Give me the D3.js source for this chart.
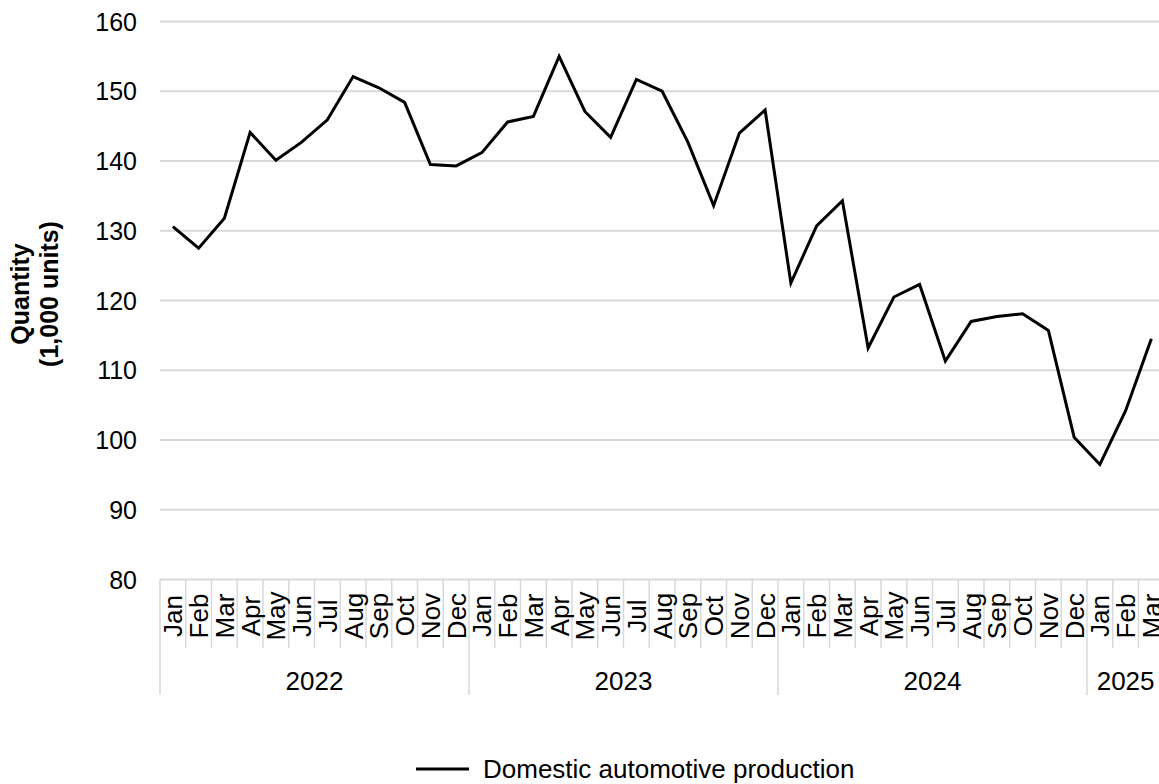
<!DOCTYPE html>
<html>
<head>
<meta charset="utf-8">
<script src="https://cdn.jsdelivr.net/npm/d3@7"></script>
<style>
  html, body { margin: 0; padding: 0; background: #fff; }
  svg { display: block; font-family: "Liberation Sans", Arial, sans-serif; }
</style>
</head>
<body>
<main></main>
<script>
// Data
const years = ['2022', '2023', '2024', '2025']
const monthNames = ['Jan', 'Feb', 'Mar', 'Apr', 'May', 'Jun', 'Jul', 'Aug', 'Sep', 'Oct', 'Nov', 'Dec']
const monthsPerYear = [12, 12, 12, 3]
const production = [
  130.6, 127.5, 131.8, 144.1, 140.1, 142.7, 145.9, 152.1, 150.5, 148.4, 139.5, 139.3,
  141.2, 145.6, 146.4, 155.0, 147.1, 143.4, 151.7, 150.0, 142.7, 133.6, 144.0, 147.3,
  122.5, 130.7, 134.3, 113.2, 120.5, 122.3, 111.3, 117.0, 117.7, 118.1, 115.7, 100.4,
  96.5, 104.2, 114.5
]
const yTicks = [80, 90, 100, 110, 120, 130, 140, 150, 160]
const seriesName = 'Domestic automotive production'

const width = 1159
const height = 784

// one row per month: year + month label
const rows = []
years.forEach((yr, yi) => {
  for (let m = 0; m < monthsPerYear[yi]; m++) {
    rows.push({ key: yr + '-' + m, year: yr, month: monthNames[m], value: production[rows.length] })
  }
})

const svg = d3.select('main')
  .append('svg')
  .attr('width', width)
  .attr('height', height)

const x = d3.scaleBand()
  .domain(rows.map(d => d.key))
  .range([160, 160 + rows.length * 25.75])
  .padding(0)

const y = d3.scaleLinear()
  .domain([80, 160])
  .range([579.5, 21.5])

const grey = '#d9d9d9'

// Gridlines
svg.append('g')
  .selectAll('line')
  .data(yTicks)
  .enter()
  .append('line')
  .attr('x1', 160)
  .attr('x2', width)
  .attr('y1', d => y(d))
  .attr('y2', d => y(d))
  .style('stroke', grey)
  .style('stroke-width', 2)

// Y tick labels
svg.append('g')
  .selectAll('text')
  .data(yTicks)
  .enter()
  .append('text')
  .text(d => d)
  .attr('x', 137)
  .attr('y', d => y(d))
  .attr('dy', '0.36em')
  .attr('text-anchor', 'end')
  .style('font-size', '25px')
  .style('fill', '#000')

// Y axis title
const yTitle = svg.append('text')
  .attr('transform', 'translate(0, 294) rotate(-90)')
  .attr('text-anchor', 'middle')
  .style('font-size', '25px')
  .style('font-weight', 700)
yTitle.append('tspan').attr('x', 0).attr('y', 29).text('Quantity')
yTitle.append('tspan').attr('x', 0).attr('y', 58).text('(1,000 units)')

// Month separators
svg.append('g')
  .selectAll('line')
  .data(rows)
  .enter()
  .append('line')
  .attr('x1', d => x(d.key))
  .attr('x2', d => x(d.key))
  .attr('y1', 579.5)
  .attr('y2', d => d.month === 'Jan' ? 695 : 648)
  .style('stroke', grey)
  .style('stroke-width', 1.5)

// Month labels
svg.append('g')
  .selectAll('text')
  .data(rows)
  .enter()
  .append('text')
  .text(d => d.month)
  .attr('transform', d => `translate(${x(d.key) + x.bandwidth() / 2}, 616) rotate(-90)`)
  .attr('text-anchor', 'middle')
  .attr('dy', '0.36em')
  .style('font-size', '26px')

// Year labels
const yearSpans = years.map(yr => {
  const keys = rows.filter(d => d.year === yr).map(d => d.key)
  return { year: yr, x0: x(keys[0]), x1: x(keys[keys.length - 1]) + x.bandwidth() }
})

svg.append('g')
  .selectAll('text')
  .data(yearSpans)
  .enter()
  .append('text')
  .text(d => d.year)
  .attr('x', d => (d.x0 + d.x1) / 2)
  .attr('y', 690)
  .attr('text-anchor', 'middle')
  .style('font-size', '26px')

// Line
const line = d3.line()
  .x(d => x(d.key) + x.bandwidth() / 2)
  .y(d => y(d.value))

svg.append('path')
  .datum(rows)
  .attr('d', line)
  .style('fill', 'none')
  .style('stroke', '#000')
  .style('stroke-width', 3)
  .style('stroke-linejoin', 'miter')

// Legend
const legend = svg.append('g')
  .attr('transform', 'translate(416, 769)')

legend.append('line')
  .attr('x1', 0)
  .attr('x2', 53)
  .style('stroke', '#000')
  .style('stroke-width', 3)

legend.append('text')
  .text(seriesName)
  .attr('x', 67)
  .attr('y', 0)
  .attr('dy', '0.33em')
  .style('font-size', '26px')
</script>
</body>
</html>
